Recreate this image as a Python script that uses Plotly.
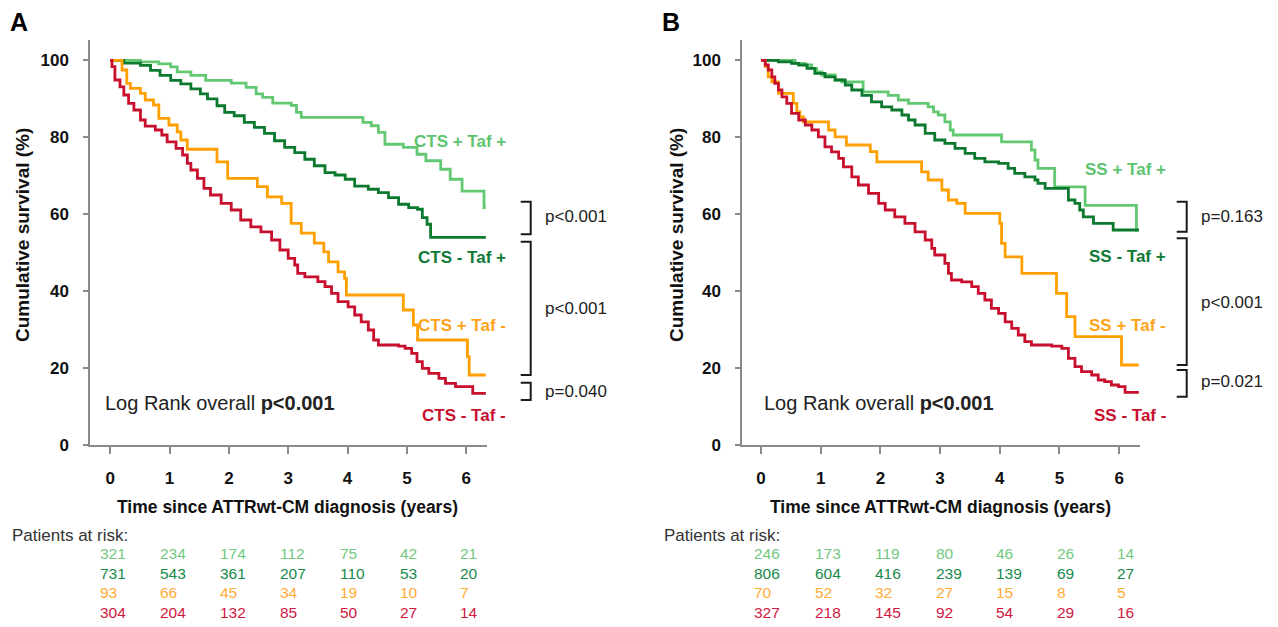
import plotly.graph_objects as go

W, H = 1278, 627

# ---------------- Panel A data (CTS) ----------------
A_lg_t = [0, 0.51, 0.82, 1.02, 1.13, 1.36, 1.61, 2.04, 2.29, 2.46, 2.57, 2.74, 3.05, 3.14, 3.22, 4.26, 4.40, 4.52, 4.63, 4.94, 5.17, 5.32, 5.57, 5.73, 5.93, 6.30, 6.33]
A_lg_v = [100, 99.6, 99.1, 98.3, 97.0, 96.1, 94.8, 94.1, 93.0, 91.3, 90.4, 88.9, 88.3, 86.5, 85.2, 83.9, 83.0, 81.3, 78.2, 77.4, 75.6, 73.9, 71.7, 69.1, 66.0, 61.7, 61.7]

A_dg_t = [0, 0.23, 0.51, 0.68, 0.84, 1.02, 1.19, 1.36, 1.52, 1.64, 1.80, 1.93, 2.09, 2.26, 2.43, 2.60, 2.77, 2.94, 3.11, 3.28, 3.44, 3.62, 3.79, 3.96, 4.12, 4.35, 4.52, 4.69, 4.86, 5.03, 5.18, 5.26, 5.34, 5.40, 6.33]
A_dg_v = [100, 99.3, 98.7, 97.4, 96.1, 94.8, 93.9, 92.6, 91.3, 90.0, 88.2, 86.5, 85.6, 83.9, 82.6, 81.0, 79.1, 77.4, 76.0, 74.3, 72.6, 70.8, 70.2, 69.1, 67.3, 66.5, 65.6, 64.3, 62.6, 61.7, 61.3, 59.1, 57.4, 54.0, 54.0]

A_or_t = [0, 0.20, 0.28, 0.34, 0.51, 0.59, 0.73, 0.82, 0.99, 1.13, 1.19, 1.30, 1.80, 1.98, 2.48, 2.65, 2.89, 3.05, 3.22, 3.44, 3.60, 3.68, 3.84, 3.95, 3.98, 4.94, 5.11, 5.18, 6.02, 6.05, 6.33]
A_or_v = [100, 97.5, 94.0, 92.7, 91.4, 89.7, 88.4, 84.9, 83.2, 81.4, 79.3, 76.9, 73.6, 69.3, 67.2, 64.5, 62.8, 57.6, 55.1, 52.5, 50.2, 47.6, 45.0, 43.3, 39.0, 35.1, 31.2, 27.3, 23.0, 18.2, 18.2]

A_rd_t = [0, 0.03, 0.08, 0.165, 0.23, 0.31, 0.40, 0.51, 0.59, 0.76, 0.87, 0.96, 1.11, 1.22, 1.30, 1.36, 1.47, 1.58, 1.69, 1.87, 2.04, 2.20, 2.37, 2.54, 2.72, 2.86, 3.00, 3.11, 3.16, 3.28, 3.50, 3.62, 3.73, 3.84, 4.01, 4.12, 4.23, 4.35, 4.44, 4.52, 4.86, 4.97, 5.08, 5.17, 5.26, 5.37, 5.54, 5.65, 5.82, 6.11, 6.33]
A_rd_v = [100, 98.4, 94.9, 93.1, 91.0, 88.8, 87.1, 84.5, 82.9, 81.9, 80.6, 78.8, 77.1, 75.4, 73.2, 71.5, 69.3, 66.7, 65.0, 62.8, 61.1, 58.5, 56.7, 55.4, 53.3, 50.7, 48.5, 46.8, 44.6, 43.7, 42.5, 41.2, 39.4, 37.3, 35.9, 33.8, 32.0, 29.9, 27.3, 26.0, 25.7, 25.1, 23.8, 21.7, 19.9, 18.6, 17.3, 16.0, 15.2, 13.4, 13.4]

# ---------------- Panel B data (SS) ----------------
B_lg_t = [0, 0.57, 0.74, 0.85, 0.93, 1.02, 1.24, 1.35, 1.71, 2.13, 2.30, 2.47, 2.80, 2.89, 2.97, 3.08, 3.17, 3.22, 4.03, 4.53, 4.59, 4.64, 4.92, 5.43, 6.29, 6.33]
B_lg_v = [100, 99.2, 98.8, 97.9, 97.0, 96.2, 94.9, 94.4, 91.8, 90.9, 89.7, 88.8, 87.9, 86.6, 85.8, 84.0, 81.9, 80.6, 78.8, 76.7, 74.1, 71.9, 67.1, 62.3, 55.9, 55.9]

B_dg_t = [0, 0.29, 0.51, 0.63, 0.77, 0.90, 1.07, 1.24, 1.41, 1.52, 1.69, 1.85, 2.02, 2.19, 2.36, 2.47, 2.58, 2.75, 2.91, 3.08, 3.25, 3.42, 3.58, 3.75, 3.98, 4.14, 4.25, 4.42, 4.59, 4.64, 4.76, 5.15, 5.26, 5.34, 5.40, 5.57, 5.90, 6.33]
B_dg_v = [100, 99.6, 99.2, 98.8, 97.9, 96.6, 95.7, 94.9, 93.6, 92.3, 90.9, 89.2, 87.9, 87.1, 85.8, 84.5, 83.2, 81.0, 79.3, 78.4, 77.1, 75.8, 74.5, 73.6, 73.2, 71.9, 70.6, 69.7, 68.9, 68.0, 66.7, 63.7, 62.8, 61.1, 59.3, 57.6, 55.9, 55.9]

B_or_t = [0, 0.07, 0.12, 0.18, 0.29, 0.54, 0.60, 0.65, 0.71, 1.13, 1.24, 1.43, 1.83, 1.94, 2.69, 2.80, 3.03, 3.14, 3.28, 3.42, 4.00, 4.03, 4.09, 4.37, 4.95, 5.12, 5.26, 6.04, 6.33]
B_or_v = [100, 98.4, 95.7, 94.4, 91.4, 88.8, 86.6, 85.3, 84.0, 81.9, 80.1, 78.0, 76.3, 73.6, 71.0, 68.9, 66.3, 63.7, 62.8, 60.2, 57.6, 52.4, 48.9, 44.6, 39.4, 33.4, 28.2, 20.8, 20.8]

B_rd_t = [0, 0.07, 0.12, 0.18, 0.23, 0.29, 0.35, 0.43, 0.51, 0.63, 0.74, 0.85, 0.96, 1.07, 1.18, 1.30, 1.38, 1.52, 1.63, 1.80, 1.97, 2.08, 2.24, 2.41, 2.58, 2.75, 2.86, 2.91, 3.08, 3.14, 3.19, 3.36, 3.53, 3.64, 3.75, 3.86, 3.98, 4.09, 4.20, 4.31, 4.42, 4.53, 4.87, 5.04, 5.15, 5.26, 5.37, 5.54, 5.65, 5.76, 5.87, 5.99, 6.10, 6.33]
B_rd_v = [100, 98.8, 97.5, 95.7, 94.0, 92.3, 90.5, 88.8, 86.2, 84.5, 83.2, 81.9, 80.1, 77.5, 76.2, 74.5, 72.3, 69.7, 67.6, 65.4, 62.8, 61.1, 59.3, 57.6, 55.4, 53.3, 51.1, 49.4, 47.2, 44.6, 42.9, 42.4, 41.2, 39.4, 37.7, 35.5, 34.2, 32.0, 30.3, 28.6, 26.9, 26.0, 25.7, 25.1, 22.5, 20.4, 19.1, 18.2, 16.9, 16.5, 15.6, 15.2, 13.7, 13.7]

# ---------------- Text / table data ----------------
x_ticks = [0, 1, 2, 3, 4, 5, 6]
y_ticks = [0, 20, 40, 60, 80, 100]

A_labels = ["CTS + Taf +", "CTS - Taf +", "CTS + Taf -", "CTS - Taf -"]
B_labels = ["SS + Taf +", "SS - Taf +", "SS + Taf -", "SS - Taf -"]

A_risk = [
    [321, 234, 174, 112, 75, 42, 21],
    [731, 543, 361, 207, 110, 53, 20],
    [93, 66, 45, 34, 19, 10, 7],
    [304, 204, 132, 85, 50, 27, 14],
]
B_risk = [
    [246, 173, 119, 80, 46, 26, 14],
    [806, 604, 416, 239, 139, 69, 27],
    [70, 52, 32, 27, 15, 8, 5],
    [327, 218, 145, 92, 54, 29, 16],
]

A_pvals = ["p<0.001", "p<0.001", "p=0.040"]
B_pvals = ["p=0.163", "p<0.001", "p=0.021"]

# ---------------- Styles ----------------
curve_colors = ["#62c872", "#0b7a2e", "#ffa000", "#c8102e"]
label_colors = ["#5cc46e", "#0e7a35", "#ffa31a", "#c8102e"]
risk_colors = ["#72c97f", "#178a4a", "#ffab36", "#d0173f"]
AX = "#8a8a8a"
FONT = "Liberation Sans, Arial, sans-serif"


def px(x):
    return x / W


def py(y):
    return 1 - y / H


fig = go.Figure()

panels = [
    dict(xa="x", ya="y", series=[(A_lg_t, A_lg_v), (A_dg_t, A_dg_v), (A_or_t, A_or_v), (A_rd_t, A_rd_v)]),
    dict(xa="x2", ya="y2", series=[(B_lg_t, B_lg_v), (B_dg_t, B_dg_v), (B_or_t, B_or_v), (B_rd_t, B_rd_v)]),
]
for p in panels:
    for (t, v), c in zip(p["series"], curve_colors):
        fig.add_trace(go.Scatter(x=t, y=v, mode="lines", line=dict(color=c, width=2.8, shape="hv"),
                                 xaxis=p["xa"], yaxis=p["ya"], showlegend=False, hoverinfo="skip"))

axis_common = dict(showgrid=False, zeroline=False, showline=True, linecolor=AX, linewidth=1.5,
                   ticks="outside", tickcolor=AX, tickwidth=1.5, automargin=False,
                   tickfont=dict(family=FONT, size=17, color="#111", weight="bold"))
ydom = [py(445), py(40)]
fig.update_layout(
    width=W, height=H, autosize=False, margin=dict(l=0, r=0, t=0, b=0, pad=0),
    paper_bgcolor="white", plot_bgcolor="white",
    xaxis=dict(domain=[px(90), px(487)], range=[-0.34, 6.35], tickvals=x_ticks, ticklen=7,
               ticklabelstandoff=10, anchor="y", **axis_common),
    yaxis=dict(domain=ydom, range=[0, 105.3], tickvals=y_ticks, ticklen=5, ticklabelstandoff=11,
               anchor="x", **axis_common),
    xaxis2=dict(domain=[px(742), px(1140)], range=[-0.32, 6.35], tickvals=x_ticks, ticklen=7,
                ticklabelstandoff=10, anchor="y2", **axis_common),
    yaxis2=dict(domain=ydom, range=[0, 105.3], tickvals=y_ticks, ticklen=5, ticklabelstandoff=11,
                anchor="x2", **axis_common),
)

ann = []
shapes = []


def text(x, y, s, size, color="#111", bold=False, xanchor="left", family=FONT, angle=0):
    if bold:
        s = "<b>" + s + "</b>"
    ann.append(dict(x=px(x), y=py(y), xref="paper", yref="paper", text=s, showarrow=False,
                    xanchor=xanchor, yanchor="middle", textangle=angle,
                    font=dict(family=family, size=size, color=color)))


panel_specs = [
    dict(letter="A", lx=19, ytitle_x=22, axmid=287, labels=A_labels, label_right=508,
         label_y=[141.7, 258, 325, 415], risk=A_risk, risk_left0=98, risk_step=60.0,
         par_x=10, logx=103, bx=530.7,
         brackets=[(201.7, 234.3), (241.7, 375), (382.7, 400)], ptext_y=[216.7, 308, 391.7],
         pvals=A_pvals),
    dict(letter="B", lx=671, ytitle_x=676, axmid=940, labels=B_labels, label_right=1168,
         label_y=[170, 256.7, 325, 415], risk=B_risk, risk_left0=752, risk_step=60.5,
         par_x=662, logx=762, bx=1186.7,
         brackets=[(201.7, 231.7), (238.3, 365), (370, 396.7)], ptext_y=[216.7, 302.7, 381.7],
         pvals=B_pvals),
]

for s in panel_specs:
    text(s["lx"], 22, s["letter"], 25, color="#000", bold=True, xanchor="center")
    text(s["ytitle_x"], 235, "Cumulative survival (%)", 19, color="#111", bold=True,
         xanchor="center", angle=-90)
    text(s["axmid"], 507, "Time since ATTRwt-CM diagnosis (years)", 17.5, color="#111", bold=True,
         xanchor="center")
    for lab, yy, col in zip(s["labels"], s["label_y"], label_colors):
        text(s["label_right"], yy, lab, 17, color=col, bold=True, xanchor="right")
    text(s["par_x"], 535, "Patients at risk:", 17, color="#333")
    for r, (row, col) in enumerate(zip(s["risk"], risk_colors)):
        for i, n in enumerate(row):
            text(s["risk_left0"] + s["risk_step"] * i, [553.5, 573, 592.5, 612.5][r], str(n), 15.5,
                 color=col, family="Liberation Sans Narrow, Arial Narrow, Liberation Sans, sans-serif")
    text(s["logx"], 403, "Log Rank overall <b>p&lt;0.001</b>", 20, color="#222")
    for (y0, y1), ty, pv in zip(s["brackets"], s["ptext_y"], s["pvals"]):
        bx = s["bx"]
        path = "M {} {} L {} {} L {} {} L {} {}".format(
            px(bx - 10), py(y0), px(bx), py(y0), px(bx), py(y1), px(bx - 10), py(y1))
        shapes.append(dict(type="path", path=path, xref="paper", yref="paper",
                           line=dict(color="#1a1a1a", width=2)))
        text(bx + 12, ty, pv.replace("<", "&lt;"), 17, color="#222")

fig.update_layout(annotations=ann, shapes=shapes)
fig.write_html(
    "out.html",
    config={"displayModeBar": False},
    post_script=(
        "document.documentElement.style.margin='0';"
        "document.documentElement.style.overflow='hidden';"
        "document.body.style.margin='0';"
        "document.body.style.overflow='hidden';"
    ),
)
